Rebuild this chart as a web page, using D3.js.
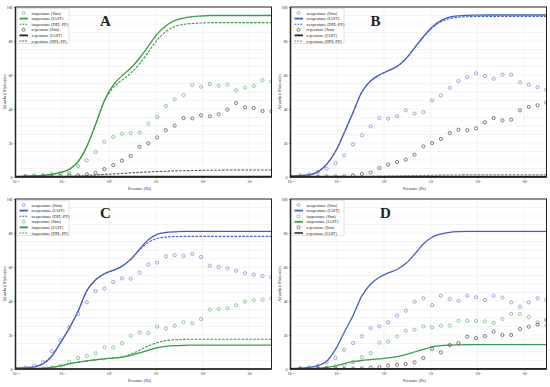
<!DOCTYPE html>
<html>
<head>
<meta charset="utf-8">
<script src="https://cdn.jsdelivr.net/npm/d3@7"></script>
<style>
  body { margin: 0; background: #fff; }
  svg { display: block; }
  text { font-family: "Liberation Serif", "DejaVu Serif", serif; fill: #222; }
</style>
</head>
<body>
<div id="chart"></div>
<script>
// pressures of the simulated points (Pa)
const pressures = [0.0162, 0.025, 0.0385, 0.0594, 0.0916, 0.141, 0.218, 0.336, 0.518, 0.798,
  1.23, 1.9, 2.92, 4.51, 6.95, 10.7, 16.5, 25.5, 39.3, 60.5,
  93.3, 144, 222, 342, 527, 813, 1253, 1932, 2979];
// pressures for the model curves (start at the axis edge)
const curvePressures = [0.01].concat(pressures);

const xTicks = [0.01, 0.1, 1, 10, 100, 1000];
const xTickLabels = ['10⁻²', '10⁻¹', '10⁰', '10¹', '10²', '10³'];
const yTicks = [0, 20, 40, 60, 80, 100];

// Panel A : isopentane / n-pentane
const aIsoSim = [0.6, 1, 1, 1.8, 2.4, 2.2, 6.3, 9.8, 14.7, 20.8, 23.5, 25.5, 25.9, 26.1, 31.4,
  35.3, 41.8, 45.7, 48.2, 54.1, 53.1, 54.7, 53.7, 54.3, 51, 52.5, 53.5, 56.9, 56.3];
const aNSim = [0.2, 0.2, 0.3, 0.3, 0.5, 1, 1, 1.6, 2.4, 4.7, 7, 9.6, 12.4, 17.8, 19.8,
  23.3, 27.5, 30.2, 34.7, 34.5, 36.3, 35.7, 36.9, 39.6, 43.5, 41, 40.6, 38.8, 38.6];
const aIsoIast = [0.2, 0.4, 0.6, 1.0, 1.6, 2.6, 4.5, 9, 18, 31, 45, 54, 59.5, 64, 70, 77,
  84, 89, 92, 93.5, 94.3, 94.7, 95, 95, 95, 95, 95, 95, 95, 95];
const aIsoDpl = [0.2, 0.4, 0.6, 1.0, 1.6, 2.6, 4.5, 9, 18, 31, 44.5, 52.5, 57, 61, 66.5, 73.5,
  80.5, 85.5, 88.5, 89.8, 90.3, 90.6, 90.8, 90.8, 90.8, 90.8, 90.8, 90.8, 90.8, 90.8];
const aNIast = [0.3, 0.3, 0.3, 0.3, 0.3, 0.3, 0.3, 0.3, 0.3, 0.3, 0.3, 0.3, 0.3, 0.3, 0.3,
  0.3, 0.3, 0.3, 0.3, 0.3, 0.3, 0.3, 0.3, 0.3, 0.3, 0.3, 0.3, 0.3, 0.3, 0.3];
const aNDpl = [0, 0, 0, 0, 0.1, 0.2, 0.4, 0.6, 0.9, 1.2, 1.5, 1.8, 2.1, 2.4, 2.7,
  3.0, 3.2, 3.4, 3.6, 3.7, 3.8, 3.9, 4.0, 4.0, 4.1, 4.1, 4.1, 4.1, 4.1, 4.1];

// Panel B : neopentane / n-pentane
const bNeoSim = [1, 1.6, 3, 4.9, 8.2, 12.7, 19.2, 24.5, 29.8, 34.7, 34.3, 35.7, 39.2, 37.3, 38.2,
  45.1, 48, 52.4, 56.5, 58.8, 61, 59.4, 57.8, 60.2, 60.2, 55.7, 54.3, 52.9, 51.4];
const bNSim = [0.2, 0.2, 0.2, 0.3, 0.3, 0.4, 1, 1.8, 2.7, 5.3, 7.3, 8.8, 10.2, 13.1, 18,
  20, 22.4, 25.9, 27.8, 27.5, 28.6, 32.2, 34.7, 33.3, 33.7, 39.2, 41.2, 42.2, 43.7];
const bNeoIast = [0.5, 0.8, 1.2, 3, 7.5, 15, 26, 38, 50, 56.5, 60, 62.5, 65, 69.5, 76, 82.5,
  88.2, 92, 94, 94.8, 95.1, 95.2, 95.3, 95.3, 95.3, 95.3, 95.3, 95.3, 95.3, 95.3];
const bNeoDpl = [0.5, 0.8, 1.2, 3, 7.5, 15, 26, 38, 50, 56.5, 60, 62.5, 65, 69.5, 76, 82.3,
  87.6, 91.3, 93.2, 94, 94.3, 94.4, 94.4, 94.4, 94.4, 94.4, 94.4, 94.4, 94.4, 94.4];
const bNIast = [0.3, 0.3, 0.3, 0.3, 0.3, 0.3, 0.3, 0.3, 0.3, 0.3, 0.3, 0.3, 0.3, 0.3, 0.3,
  0.3, 0.3, 0.3, 0.3, 0.3, 0.3, 0.3, 0.3, 0.3, 0.3, 0.3, 0.3, 0.3, 0.3, 0.3];
const bNDpl = [0, 0, 0, 0, 0, 0, 0.1, 0.1, 0.2, 0.3, 0.4, 0.5, 0.6, 0.7, 0.8,
  0.9, 1.0, 1.1, 1.2, 1.2, 1.3, 1.3, 1.3, 1.3, 1.3, 1.3, 1.3, 1.3, 1.3, 1.3];

// Panel C : neopentane / isopentane
const cNeoSim = [0.8, 2, 4, 10.5, 17, 24.5, 32.4, 39.2, 45.9, 47.3, 51.2, 53.3, 53.1, 56.7, 61.4,
  62.6, 66.3, 66.9, 66.5, 67.6, 65.9, 60.8, 60, 59.2, 57.8, 56.3, 55.5, 54.7, 54.1];
const cIsoSim = [0.2, 0.2, 0.3, 0.8, 2, 4.3, 6.5, 7.8, 9.2, 12.7, 12.7, 15.1, 19.6, 21.4, 21.2,
  24.9, 23.9, 25.5, 27.5, 26.9, 29.4, 34.9, 35.3, 35.7, 37.5, 39.6, 40.4, 40.8, 41.6];
const cNeoIast = [0.5, 0.8, 1.3, 3, 7.5, 15.5, 24, 34, 46, 52.5, 56, 58, 60.5, 64.5, 70.5, 76,
  79.2, 80.3, 80.7, 80.9, 81, 81, 81, 81, 81, 81, 81, 81, 81, 81];
const cNeoDpl = [0.5, 0.8, 1.3, 3, 7.5, 15.5, 24, 34, 46, 52.5, 56, 58, 60.5, 64.5, 70, 74.5,
  76.8, 77.6, 77.9, 78, 78, 78, 78, 78, 78, 78, 78, 78, 78, 78];
const cIsoIast = [0.1, 0.2, 0.3, 0.5, 1, 1.8, 3, 4, 4.8, 5.4, 6, 6.4, 7, 8, 9.5, 11,
  12.5, 13.3, 13.7, 13.9, 14, 14, 14, 14, 14, 14, 14, 14, 14, 14];
const cIsoDpl = [0.1, 0.2, 0.3, 0.5, 1, 1.8, 3, 4, 4.8, 5.4, 6, 6.4, 7, 8.8, 11, 13.5,
  15.5, 16.7, 17.2, 17.4, 17.5, 17.5, 17.5, 17.5, 17.5, 17.5, 17.5, 17.5, 17.5, 17.5];

// Panel D : ternary mixture
const dNeoSim = [0.5, 1, 2, 4, 6.5, 11.4, 15.3, 19.2, 24.1, 25.1, 27.5, 31.4, 34.3, 39.6, 41.6,
  37.6, 43.1, 41.2, 40.2, 43.1, 42.2, 40.6, 43.1, 42, 39.2, 36.7, 39.2, 41.6, 40.8];
const dIsoSim = [0.1, 0.2, 0.3, 0.8, 1.4, 2.4, 4.1, 6.9, 9.4, 15.5, 16.1, 19.2, 22.5, 23.1, 25.1,
  24.5, 25.5, 25.5, 28.4, 28.4, 28.2, 28, 27.1, 29.4, 32.4, 32.4, 30.6, 27.5, 25.5];
const dNSim = [0.1, 0.1, 0.1, 0.2, 0.2, 0.1, 0.2, 0.4, 0.8, 1.2, 2, 2.5, 2.9, 3.9, 6.5,
  11.8, 9.8, 14.1, 15.3, 19, 18.2, 19.4, 22, 20, 20, 23.5, 24.9, 26.1, 28.8];
const dNeoIast = [0.3, 0.5, 0.9, 2, 4.5, 11.5, 21.5, 31.5, 43, 50, 54, 56.5, 58.5, 62, 67.5, 73.5,
  77.5, 79.4, 80.4, 80.8, 81, 81, 81, 81, 81, 81, 81, 81, 81, 81];
const dIsoIast = [0.1, 0.2, 0.3, 0.5, 1, 1.8, 3.2, 4.3, 5, 5.5, 6, 6.5, 7.3, 8.5, 10, 11.5,
  13, 13.8, 14.1, 14.2, 14.3, 14.3, 14.3, 14.3, 14.3, 14.3, 14.3, 14.3, 14.3, 14.3];
const dNIast = [0.2, 0.2, 0.2, 0.2, 0.2, 0.2, 0.2, 0.2, 0.2, 0.2, 0.2, 0.2, 0.2, 0.2, 0.2,
  0.2, 0.2, 0.2, 0.2, 0.2, 0.2, 0.2, 0.2, 0.2, 0.2, 0.2, 0.2, 0.2, 0.2, 0.2];

const GREEN = '#3a9a48', GREEN_SIM = '#62b56c';
const BLUE = '#4a5cc0', BLUE_SIM = '#7484d0';
const BLACK = '#222', BLACK_SIM = '#4a4a4a';

const panels = [
  { letter: 'A', series: [
    { name: 'isopentane (Sim)', type: 'sim', color: GREEN_SIM, values: aIsoSim },
    { name: 'isopentane (IAST)', type: 'iast', color: GREEN, values: aIsoIast },
    { name: 'isopentane (DPL-PP)', type: 'dpl', color: GREEN, values: aIsoDpl },
    { name: 'n-pentane (Sim)', type: 'sim', color: BLACK_SIM, values: aNSim },
    { name: 'n-pentane (IAST)', type: 'iast', color: BLACK, values: aNIast },
    { name: 'n-pentane (DPL-PP)', type: 'dpl', color: '#555', values: aNDpl }
  ]},
  { letter: 'B', series: [
    { name: 'neopentane (Sim)', type: 'sim', color: BLUE_SIM, values: bNeoSim },
    { name: 'neopentane (IAST)', type: 'iast', color: BLUE, values: bNeoIast },
    { name: 'neopentane (DPL-PP)', type: 'dpl', color: BLUE, values: bNeoDpl },
    { name: 'n-pentane (Sim)', type: 'sim', color: BLACK_SIM, values: bNSim },
    { name: 'n-pentane (IAST)', type: 'iast', color: BLACK, values: bNIast },
    { name: 'n-pentane (DPL-PP)', type: 'dpl', color: '#777', values: bNDpl }
  ]},
  { letter: 'C', series: [
    { name: 'neopentane (Sim)', type: 'sim', color: BLUE_SIM, values: cNeoSim },
    { name: 'neopentane (IAST)', type: 'iast', color: BLUE, values: cNeoIast },
    { name: 'neopentane (DPL-PP)', type: 'dpl', color: BLUE, values: cNeoDpl },
    { name: 'isopentane (Sim)', type: 'sim', color: GREEN_SIM, values: cIsoSim },
    { name: 'isopentane (IAST)', type: 'iast', color: GREEN, values: cIsoIast },
    { name: 'isopentane (DPL-PP)', type: 'dpl', color: GREEN, values: cIsoDpl }
  ]},
  { letter: 'D', series: [
    { name: 'neopentane (Sim)', type: 'sim', color: BLUE_SIM, values: dNeoSim },
    { name: 'neopentane (IAST)', type: 'iast', color: BLUE, values: dNeoIast },
    { name: 'isopentane (Sim)', type: 'sim', color: GREEN_SIM, values: dIsoSim },
    { name: 'isopentane (IAST)', type: 'iast', color: GREEN, values: dIsoIast },
    { name: 'n-pentane (Sim)', type: 'sim', color: BLACK_SIM, values: dNSim },
    { name: 'n-pentane (IAST)', type: 'iast', color: '#444', values: dNIast }
  ]}
];

// where each panel sits on the page
const layout = [
  { x: 15.5, y: 7, letterX: 90 },
  { x: 290.5, y: 7, letterX: 85 },
  { x: 15.5, y: 199, letterX: 90 },
  { x: 290.5, y: 199, letterX: 95 }
];
const pw = 256, ph = 170;

const svg = d3.select('#chart').append('svg')
  .attr('width', 550)
  .attr('height', 387);

svg.append('rect').attr('width', 550).attr('height', 387).attr('fill', '#fff');

panels.forEach((p, i) => {
  const pos = layout[i];
  const g = svg.append('g').attr('transform', `translate(${pos.x},${pos.y})`);

  const xScale = d3.scaleLog().domain([0.01, 3000]).range([0, pw]);
  const yScale = d3.scaleLinear().domain([0, 100]).range([ph, 0]);

  // faint grid
  g.append('g').selectAll('line')
    .data(d3.range(5, 100, 5))
    .enter().append('line')
    .attr('x1', 0).attr('x2', pw)
    .attr('y1', d => yScale(d)).attr('y2', d => yScale(d))
    .attr('stroke', '#ebebeb').attr('stroke-width', 0.5);
  g.append('g').selectAll('line')
    .data(xTicks.slice(1))
    .enter().append('line')
    .attr('x1', d => xScale(d)).attr('x2', d => xScale(d))
    .attr('y1', 0).attr('y2', ph)
    .attr('stroke', '#e6e6e6').attr('stroke-width', 0.5);

  const clipId = 'clip' + i;
  g.append('clipPath').attr('id', clipId)
    .append('rect').attr('width', pw).attr('height', ph);
  const plot = g.append('g').attr('clip-path', `url(#${clipId})`);

  const line = d3.line()
    .x((d, j) => xScale(curvePressures[j]))
    .y(d => yScale(d))
    .curve(d3.curveMonotoneX);

  // model curves
  p.series.filter(s => s.type !== 'sim').forEach(s => {
    plot.append('path')
      .datum(s.values)
      .attr('d', line)
      .attr('fill', 'none')
      .attr('stroke', s.color)
      .attr('stroke-width', s.type === 'iast' ? 1.3 : 1.1)
      .attr('stroke-dasharray', s.type === 'dpl' ? '2.6,1.3' : null);
  });

  // simulated points
  p.series.filter(s => s.type === 'sim').forEach(s => {
    plot.append('g').selectAll('circle')
      .data(s.values)
      .enter().append('circle')
      .attr('cx', (d, j) => xScale(pressures[j]))
      .attr('cy', d => yScale(d))
      .attr('r', 1.6)
      .attr('fill', 'none')
      .attr('stroke', s.color)
      .attr('stroke-width', 0.7);
  });

  // axes
  const yAxis = g.append('g')
    .call(d3.axisLeft(yScale).tickValues(yTicks).tickSize(1.5).tickPadding(1.5));
  const xAxis = g.append('g')
    .attr('transform', `translate(0,${ph})`)
    .call(d3.axisBottom(xScale).tickValues(xTicks).tickSize(1.5).tickPadding(2)
      .tickFormat((d, k) => xTickLabels[k]));
  [xAxis, yAxis].forEach(ax => {
    ax.select('.domain').remove();
    ax.selectAll('text').attr('font-size', 3.8).attr('font-family', null).attr('fill', '#222');
    ax.selectAll('line').attr('stroke', '#333').attr('stroke-width', 0.5);
  });

  // frame
  g.append('rect')
    .attr('width', pw).attr('height', ph)
    .attr('fill', 'none').attr('stroke', '#222').attr('stroke-width', 1);
  g.append('line').attr('x1', 0).attr('x2', 0).attr('y1', 0).attr('y2', ph)
    .attr('stroke', '#222').attr('stroke-width', 1.5);
  g.append('line').attr('x1', 0).attr('x2', pw).attr('y1', ph).attr('y2', ph)
    .attr('stroke', '#222').attr('stroke-width', 1.5);

  // axis titles
  g.append('text')
    .attr('transform', `translate(-9.5,${ph / 2}) rotate(-90)`)
    .attr('text-anchor', 'middle')
    .attr('font-size', 4.3)
    .text('Adsorbed Molecules');
  g.append('text')
    .attr('x', pw / 2 - 4).attr('y', ph + 13)
    .attr('text-anchor', 'middle')
    .attr('font-size', 4.3)
    .text('Pressure (Pa)');

  // legend
  const lg = g.append('g').attr('transform', 'translate(1.5,1.5)');
  lg.append('rect')
    .attr('width', 52).attr('height', 35)
    .attr('fill', '#fff').attr('stroke', '#c8c8c8').attr('stroke-width', 0.5);
  p.series.forEach((s, k) => {
    const ry = 4.5 + k * 5.6;
    if (s.type === 'sim') {
      lg.append('circle').attr('cx', 6.5).attr('cy', ry).attr('r', 1.5)
        .attr('fill', 'none').attr('stroke', s.color).attr('stroke-width', 0.7);
    } else {
      lg.append('line').attr('x1', 2.5).attr('x2', 11).attr('y1', ry).attr('y2', ry)
        .attr('stroke', s.color)
        .attr('stroke-width', s.type === 'iast' ? 1.8 : 1.1)
        .attr('stroke-dasharray', s.type === 'dpl' ? '1.8,1' : null);
    }
    lg.append('text')
      .attr('x', 14.5).attr('y', ry)
      .attr('dy', '0.35em')
      .attr('font-size', 4.3)
      .text(s.name);
  });

  // panel letter
  g.append('text')
    .attr('x', pos.letterX).attr('y', 19)
    .attr('text-anchor', 'middle')
    .attr('font-size', 15)
    .attr('font-weight', 'bold')
    .text(p.letter);
});
</script>
</body>
</html>
